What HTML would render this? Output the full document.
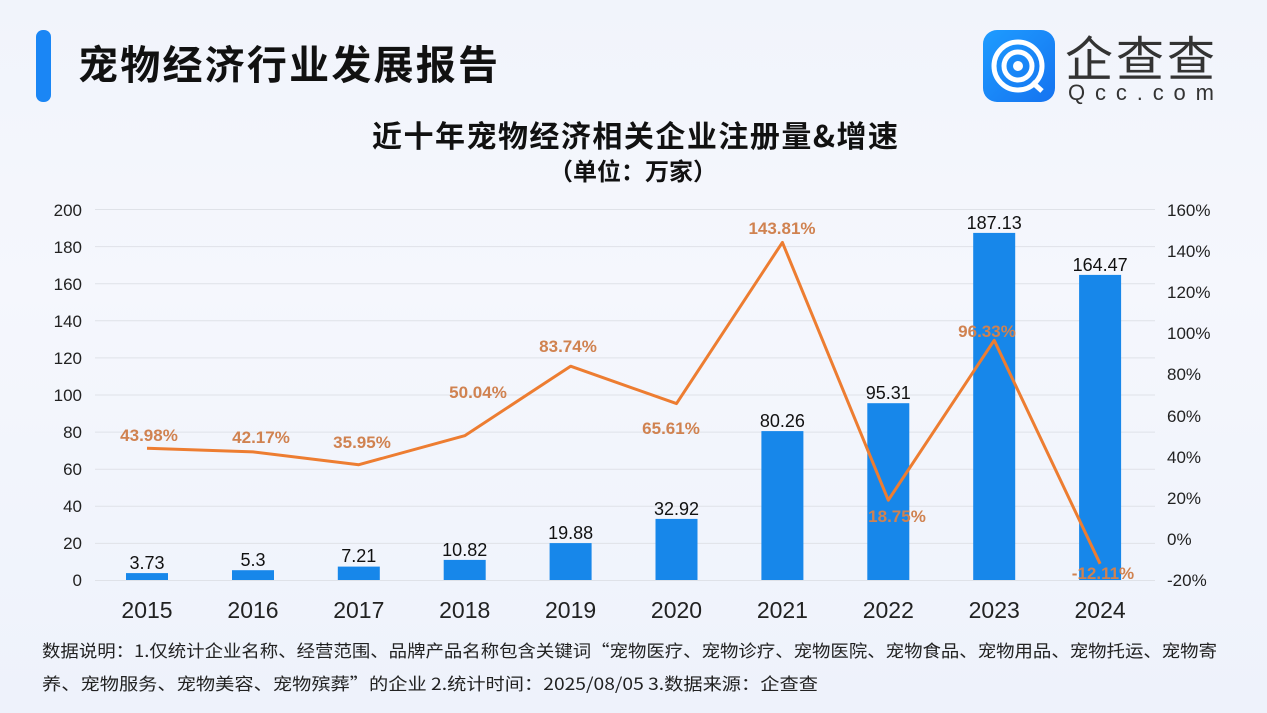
<!DOCTYPE html>
<html><head><meta charset="utf-8"><style>
html,body{margin:0;padding:0}
body{width:1267px;height:713px;overflow:hidden;background:linear-gradient(180deg,#f1f4fb 0%,#f5f7fd 40%,#eef2fb 100%);font-family:"Liberation Sans","Noto Sans CJK SC",sans-serif;position:relative}
</style></head><body>
<svg width="1267" height="713" xmlns="http://www.w3.org/2000/svg" style="position:absolute;left:0;top:0">
<defs>
<linearGradient id="logo" x1="0" y1="0" x2="1" y2="1"><stop offset="0" stop-color="#1e9cff"/><stop offset="1" stop-color="#1573f0"/></linearGradient>
</defs>
<rect x="36" y="30" width="15" height="72" rx="7" fill="#1a86f5"/>
<text x="78" y="79" font-size="40" font-weight="bold" fill="#111" textLength="420" font-family="Noto Sans CJK SC,sans-serif">宠物经济行业发展报告</text>
<rect x="983" y="30" width="72" height="72" rx="14" fill="url(#logo)"/>
<circle cx="1018" cy="66" r="24" fill="none" stroke="#fff" stroke-width="5"/>
<circle cx="1018" cy="66" r="14" fill="none" stroke="#fff" stroke-width="5"/>
<circle cx="1018" cy="66" r="5" fill="#fff"/>
<line x1="1032" y1="82" x2="1042" y2="91" stroke="#fff" stroke-width="5"/>
<text x="1065" y="76" font-size="48" fill="#333" textLength="150" font-family="Noto Sans CJK SC,sans-serif">企查查</text>
<text x="1068" y="100" font-size="22" fill="#333" textLength="146" font-family="Liberation Sans,sans-serif">Qcc.com</text>
<text x="372" y="147" font-size="30" font-weight="bold" fill="#111" textLength="526" font-family="Noto Sans CJK SC,sans-serif">近十年宠物经济相关企业注册量&amp;增速</text>
<text x="633" y="180" font-size="24" font-weight="bold" fill="#111" text-anchor="middle" font-family="Noto Sans CJK SC,sans-serif">（单位：万家）</text>
<g stroke="#dfe2e8" stroke-width="1">
<line x1="95" y1="209.5" x2="1155" y2="209.5"/><line x1="95" y1="246.6" x2="1155" y2="246.6"/><line x1="95" y1="283.7" x2="1155" y2="283.7"/><line x1="95" y1="320.8" x2="1155" y2="320.8"/><line x1="95" y1="357.9" x2="1155" y2="357.9"/><line x1="95" y1="395" x2="1155" y2="395"/><line x1="95" y1="432.1" x2="1155" y2="432.1"/><line x1="95" y1="469.2" x2="1155" y2="469.2"/><line x1="95" y1="506.3" x2="1155" y2="506.3"/><line x1="95" y1="543.4" x2="1155" y2="543.4"/><line x1="95" y1="580.5" x2="1155" y2="580.5"/>
</g>
<g font-size="17" fill="#222" text-anchor="end">
<text x="82" y="216">200</text><text x="82" y="253">180</text><text x="82" y="290">160</text><text x="82" y="327">140</text><text x="82" y="364">120</text><text x="82" y="401">100</text><text x="82" y="438">80</text><text x="82" y="475">60</text><text x="82" y="512">40</text><text x="82" y="549">20</text><text x="82" y="586">0</text>
</g>
<g font-size="17" fill="#222">
<text x="1167" y="216">160%</text><text x="1167" y="257">140%</text><text x="1167" y="298">120%</text><text x="1167" y="339">100%</text><text x="1167" y="380">80%</text><text x="1167" y="422">60%</text><text x="1167" y="463">40%</text><text x="1167" y="504">20%</text><text x="1167" y="545">0%</text><text x="1167" y="586">-20%</text>
</g>
<g fill="#1787ea">
<rect x="126" y="573.1" width="42" height="6.9"/>
<rect x="232" y="570.2" width="42" height="9.8"/>
<rect x="337.8" y="566.6" width="42" height="13.4"/>
<rect x="443.7" y="559.9" width="42" height="20.1"/>
<rect x="549.6" y="543.1" width="42" height="36.9"/>
<rect x="655.5" y="518.9" width="42" height="61.1"/>
<rect x="761.4" y="431.1" width="42" height="148.9"/>
<rect x="867.3" y="403.2" width="42" height="176.8"/>
<rect x="973.2" y="232.9" width="42" height="347.1"/>
<rect x="1079.1" y="274.9" width="42" height="305.1"/>
</g>
<g font-size="18" fill="#111" text-anchor="middle">
<text x="147" y="569">3.73</text><text x="253" y="566">5.3</text><text x="358.8" y="562">7.21</text><text x="464.7" y="556">10.82</text><text x="570.6" y="539">19.88</text><text x="676.5" y="515">32.92</text><text x="782.4" y="427">80.26</text><text x="888.3" y="399">95.31</text><text x="994.2" y="229">187.13</text><text x="1100.1" y="271">164.47</text>
</g>
<polyline fill="none" stroke="#ed7d31" stroke-width="3" stroke-linejoin="round" points="147,448.2 253,451.9 358.8,464.7 464.7,435.7 570.6,366.2 676.5,403.6 782.4,242.4 888.3,500.2 994.2,340.3 1100.1,563.8"/>
<g font-size="17" fill="#d08250" text-anchor="middle" font-weight="bold">
<text x="149" y="441">43.98%</text><text x="261" y="443">42.17%</text><text x="362" y="448">35.95%</text><text x="478" y="398">50.04%</text><text x="568" y="352">83.74%</text><text x="671" y="434">65.61%</text><text x="782" y="234">143.81%</text><text x="897" y="522">18.75%</text><text x="987" y="337">96.33%</text><text x="1103" y="579">-12.11%</text>
</g>
<g font-size="23" fill="#222" text-anchor="middle">
<text x="147" y="618">2015</text><text x="253" y="618">2016</text><text x="358.8" y="618">2017</text><text x="464.7" y="618">2018</text><text x="570.6" y="618">2019</text><text x="676.5" y="618">2020</text><text x="782.4" y="618">2021</text><text x="888.3" y="618">2022</text><text x="994.2" y="618">2023</text><text x="1100.1" y="618">2024</text>
</g>
<g font-size="17" fill="#222" font-family="Noto Sans CJK SC,sans-serif">
<text x="42" y="657" textLength="1175" lengthAdjust="spacingAndGlyphs">数据说明：1.仅统计企业名称、经营范围、品牌产品名称包含关键词“宠物医疗、宠物诊疗、宠物医院、宠物食品、宠物用品、宠物托运、宠物寄</text>
<text x="42" y="690" textLength="776" lengthAdjust="spacingAndGlyphs">养、宠物服务、宠物美容、宠物殡葬”的企业  2.统计时间：2025/08/05   3.数据来源：企查查</text>
</g>
</svg>
</body></html>
